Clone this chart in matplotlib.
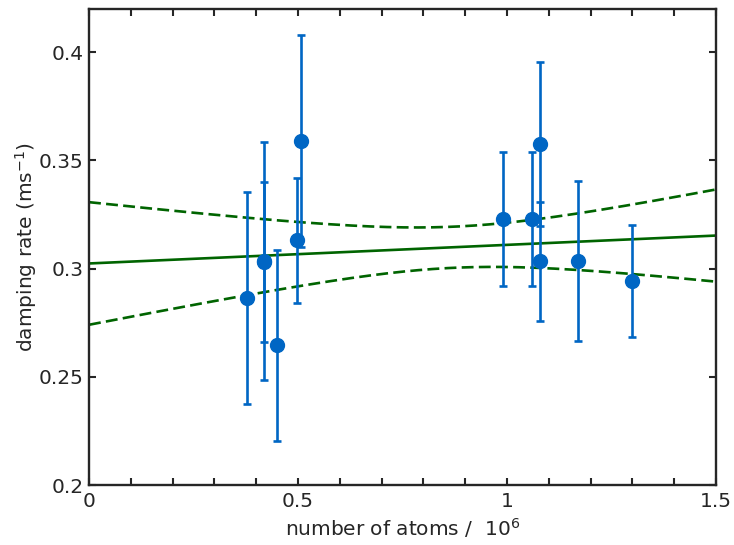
import matplotlib
matplotlib.use("Agg")
import matplotlib.pyplot as plt
import numpy as np

# measured damping rates vs atom number (in units of 10^6)
atoms = [0.378, 0.419, 0.419, 0.449, 0.498, 0.508, 0.990, 1.060, 1.079, 1.079, 1.170, 1.300]
damping = [0.2864, 0.3037, 0.3030, 0.2645, 0.3131, 0.3590, 0.3230, 0.3230, 0.3577, 0.3034, 0.3034, 0.2944]
damping_err = [0.049, 0.055, 0.037, 0.044, 0.029, 0.049, 0.031, 0.031, 0.038, 0.0275, 0.037, 0.026]

# linear fit and its confidence band (half width = sqrt(a^2 + b^2 (x - x0)^2))
fit_intercept = 0.3024
fit_slope = 0.0086
band_min = 0.0095
band_growth = 0.0305
band_centre = 0.875

blue = "#0066c4"
green = "#006400"
dark = "#262626"

fig = plt.figure(figsize=(7.34, 5.45), dpi=100)
ax = fig.add_axes([0.1213, 0.110, 0.8542, 0.8735])

xs = np.linspace(0, 1.5, 300)
fit = fit_intercept + fit_slope * xs
half = np.sqrt(band_min**2 + band_growth**2 * (xs - band_centre) ** 2)
ax.plot(xs, fit, color=green, lw=1.9, zorder=1)
ax.plot(xs, fit + half, color=green, lw=1.9, ls=(0, (4.5, 2.0)), zorder=1)
ax.plot(xs, fit - half, color=green, lw=1.9, ls=(0, (4.5, 2.0)), zorder=1)

ax.errorbar(atoms, damping, yerr=damping_err, fmt="o", color=blue, ms=10,
            elinewidth=1.9, capsize=3.2, capthick=1.9, zorder=3)

ax.set_xlim(0, 1.5)
ax.set_ylim(0.2, 0.42)
ax.set_xticks([0, 0.5, 1, 1.5])
ax.set_xticklabels(["0", "0.5", "1", "1.5"])
ax.set_xticks(np.arange(0, 1.51, 0.1), minor=True)
ax.set_yticks([0.2, 0.25, 0.3, 0.35, 0.4])
ax.set_yticklabels(["0.2", "0.25", "0.3", "0.35", "0.4"])

ax.tick_params(which="both", direction="in", top=True, right=True,
               colors=dark, labelsize=14.5, width=1.5)
ax.tick_params(axis="y", pad=4)
ax.tick_params(axis="x", pad=5)
ax.tick_params(which="major", length=5)
ax.tick_params(which="minor", length=5)
for s in ax.spines.values():
    s.set_linewidth(1.7)
    s.set_color(dark)

ax.set_xlabel("number of atoms /  10$^6$", fontsize=14.5, color=dark, labelpad=4)
ax.set_ylabel("damping rate (ms$^{-1}$)", fontsize=14.5, color=dark, labelpad=0)

fig.savefig("out.png", dpi=100)
